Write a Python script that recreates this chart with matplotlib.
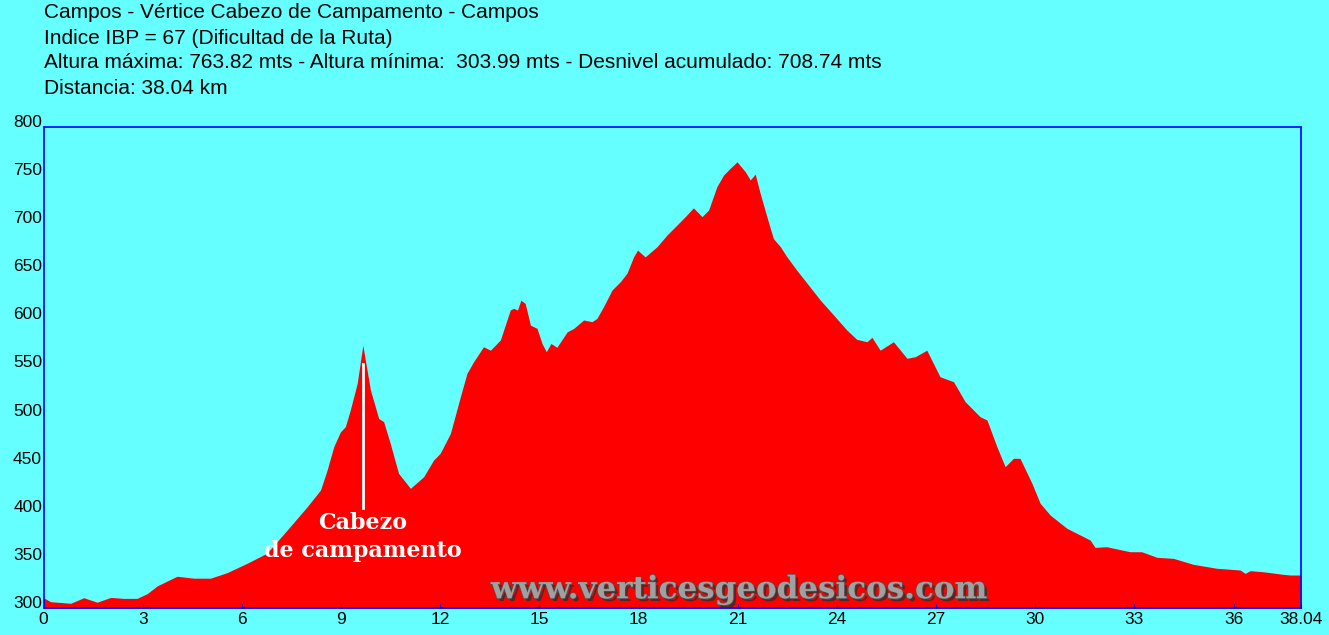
import numpy as np
import matplotlib.pyplot as plt
import matplotlib.patheffects as pe
from matplotlib.transforms import ScaledTranslation

# Perfil: distancia (km) y altura (m)
dist = [0.0, 0.21, 0.82, 1.22, 1.62, 2.03, 2.43, 2.83, 3.14, 3.44, 4.04, 4.55,
        5.05, 5.55, 6.16, 6.76, 7.37, 7.97, 8.38, 8.58, 8.78, 8.98, 9.13, 9.28,
        9.49, 9.66, 9.89, 10.14, 10.29, 10.49, 10.74, 11.1, 11.5, 11.8, 12.0,
        12.31, 12.61, 12.81, 13.01, 13.31, 13.52, 13.82, 14.12, 14.22, 14.34,
        14.44, 14.57, 14.73, 14.93, 15.08, 15.21, 15.35, 15.53, 15.84, 16.04,
        16.34, 16.59, 16.74, 16.94, 17.2, 17.45, 17.65, 17.85, 17.97, 18.2,
        18.56, 18.86, 19.16, 19.46, 19.66, 19.92, 20.12, 20.37, 20.57, 20.77,
        20.98, 21.23, 21.38, 21.53, 21.68, 21.88, 22.08, 22.29, 22.49, 22.79,
        23.1, 23.5, 23.9, 24.3, 24.6, 24.91, 25.06, 25.31, 25.71, 26.12, 26.37,
        26.72, 27.12, 27.53, 27.88, 28.33, 28.54, 28.84, 29.09, 29.34, 29.54,
        29.9, 30.15, 30.45, 30.96, 31.66, 31.81, 32.16, 32.87, 33.22, 33.68,
        34.18, 34.78, 35.49, 36.2, 36.35, 36.5, 36.9, 37.5, 37.7, 38.04]
alt = [310.7, 306.6, 304.9, 310.7, 306.0, 311.0, 310.0, 310.0, 315.0, 323.0,
       333.0, 331.0, 331.0, 336.7, 346.5, 357.0, 381.0, 405.0, 422.7, 443.5,
       467.7, 483.0, 488.5, 505.8, 533.6, 573.0, 526.6, 497.0, 493.7, 471.0,
       440.0, 424.4, 436.5, 453.8, 460.8, 481.6, 519.6, 544.0, 556.0, 571.6,
       568.0, 578.6, 609.8, 611.5, 609.8, 620.0, 616.7, 594.0, 590.7, 575.0,
       566.4, 575.0, 571.0, 587.0, 590.7, 599.4, 597.6, 601.0, 613.2, 630.6,
       639.2, 648.0, 665.0, 672.0, 665.0, 675.6, 687.7, 698.0, 708.5, 716.0,
       706.8, 713.7, 738.0, 750.0, 757.0, 763.8, 753.5, 745.0, 751.0, 731.0,
       707.0, 684.0, 675.6, 665.0, 651.0, 637.5, 620.0, 604.6, 589.0, 579.3,
       576.8, 581.4, 568.0, 576.8, 559.6, 561.2, 568.0, 540.4, 535.2, 514.5,
       498.9, 495.4, 467.7, 446.9, 455.6, 455.6, 429.6, 408.8, 396.7, 382.8,
       370.7, 363.0, 363.7, 358.5, 358.5, 352.7, 351.6, 345.4, 341.3, 339.5,
       336.0, 338.8, 337.7, 335.0, 334.3, 334.3]

x_ticks = [0, 3, 6, 9, 12, 15, 18, 21, 24, 27, 30, 33, 36, 38.04]
x_labels = ['0', '3', '6', '9', '12', '15', '18', '21', '24', '27', '30', '33', '36', '38.04']
y_ticks = [300, 350, 400, 450, 500, 550, 600, 650, 700, 750, 800]

titulo = ['Campos - Vértice Cabezo de Campamento - Campos',
          'Indice IBP = 67 (Dificultad de la Ruta)',
          'Altura máxima: 763.82 mts - Altura mínima:  303.99 mts - Desnivel acumulado: 708.74 mts',
          'Distancia: 38.04 km']

vertice_km = 9.66
vertice_linea = [403.6, 554.0]

bg = '#66FFFF'
azul = '#0000FF'

plt.rcParams['font.family'] = ['Liberation Sans', 'DejaVu Sans']

fig = plt.figure(figsize=(13.29, 6.35), dpi=100, facecolor=bg)
ax = fig.add_axes([43.5 / 1329, 1 - 608 / 635, (1301 - 43.5) / 1329, (608 - 127) / 635])
ax.set_facecolor(bg)

ax.fill_between(dist, 300, alt, color='#FF0000', linewidth=0)

ax.set_xlim(0, 38.04)
ax.set_ylim(300, 800)
for s in ax.spines.values():
    s.set_color(azul)
    s.set_linewidth(1.2)

ax.set_xticks(x_ticks)
ax.set_xticklabels(x_labels)
ax.set_yticks(y_ticks)
ax.tick_params(axis='both', direction='in', length=3, color=azul, labelsize=12.5)
ax.tick_params(axis='x', pad=3)
ax.tick_params(axis='y', pad=1, length=0)

# etiquetas del eje y algo por encima de su marca
off = ScaledTranslation(0, 6 / 100, fig.dpi_scale_trans)
for lab in ax.get_yticklabels():
    lab.set_transform(lab.get_transform() + off)

# marca del vertice
ax.plot([vertice_km, vertice_km], vertice_linea, color='white', linewidth=2)
ax.text(vertice_km, 388, 'Cabezo', color='white', fontsize=16, fontweight='bold',
        family='DejaVu Serif', ha='center', va='center')
ax.text(vertice_km, 359, 'de campamento', color='white', fontsize=16, fontweight='bold',
        family='DejaVu Serif', ha='center', va='center')

# marca de agua
ax.text(21.05, 319, 'www.verticesgeodesicos.com', color='#a0a0a0', fontsize=22.3,
        fontweight='bold', family='DejaVu Serif', ha='center', va='center',
        path_effects=[pe.withSimplePatchShadow(offset=(2, -2), shadow_rgbFace='#303030', alpha=0.8),
                      pe.Stroke(linewidth=1, foreground='#505050'), pe.Normal()])

for i, t in enumerate(titulo):
    fig.text(44 / 1329, 1 - (13 + 25 * i) / 635, t, fontsize=15, ha='left', va='center')

fig.savefig('out.png', dpi=100, facecolor=bg)
